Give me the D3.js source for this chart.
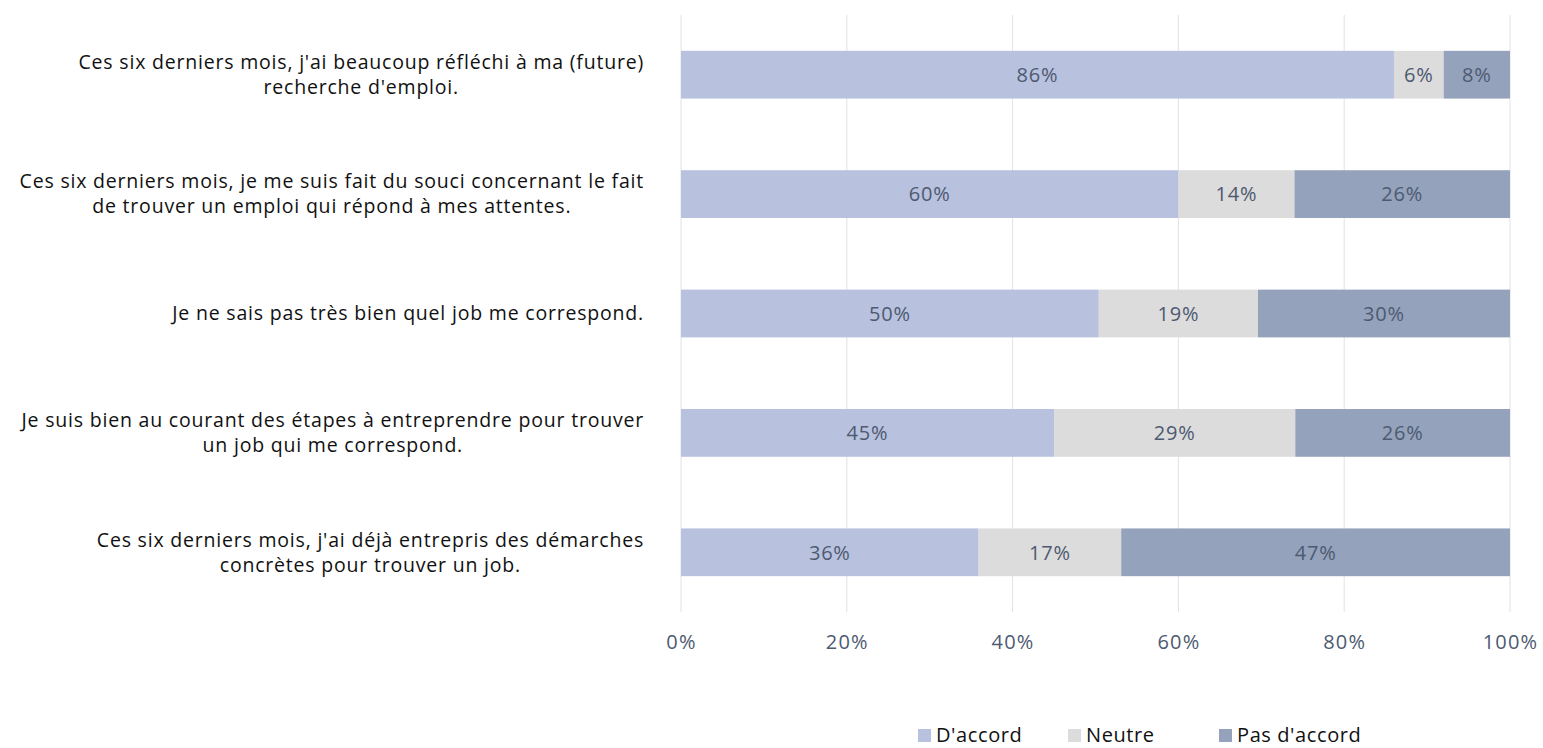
<!DOCTYPE html>
<html>
<head>
<meta charset="utf-8">
<script src="https://cdn.jsdelivr.net/npm/d3@7"></script>
<style>
  body { margin: 0; background: #fff; }
  svg { display: block; }
</style>
</head>
<body>
<svg id="chart" width="1543" height="748"></svg>
<script>
const svg = d3.select("#chart");
const fontFamily = "'Open Sans', Lato, sans-serif";

// données
const categories = [
  "Ces six derniers mois, j'ai beaucoup réfléchi à ma (future)\nrecherche d'emploi.",
  "Ces six derniers mois, je me suis fait du souci concernant le fait\nde trouver un emploi qui répond à mes attentes.",
  "Je ne sais pas très bien quel job me correspond.",
  "Je suis bien au courant des étapes à entreprendre pour trouver\nun job qui me correspond.",
  "Ces six derniers mois, j'ai déjà entrepris des démarches\nconcrètes pour trouver un job."
];
const seriesNames = ["D'accord", "Neutre", "Pas d'accord"];
const accord    = [86, 60, 50.4, 45, 35.9];
const neutre    = [6, 14, 19.2, 29.1, 17.2];
const pasAccord = [8, 26, 30.4, 25.9, 46.9];
const tickValues = [0, 20, 40, 60, 80, 100];
const colors = ["#b8c1de", "#dcdcdc", "#94a2bc"];

const margin = {top: 15, right: 33, bottom: 136, left: 681};
const width = 1543;
const height = 748;

const rows = categories.map((c, i) => ({
  cat: c, "D'accord": accord[i], "Neutre": neutre[i], "Pas d'accord": pasAccord[i]
}));

const x = d3.scaleLinear()
  .domain([0, 100])
  .range([margin.left, width - margin.right]);

const y = d3.scaleBand()
  .domain(categories)
  .range([margin.top, height - margin.bottom])
  .paddingInner(0.6)
  .paddingOuter(0.3);

// grille
svg.append("g")
  .selectAll("line")
  .data(tickValues)
  .join("line")
    .attr("x1", d => x(d)).attr("x2", d => x(d))
    .attr("y1", margin.top).attr("y2", height - margin.bottom)
    .attr("stroke", "#e2e2e6")
    .attr("stroke-width", 1);

// barres empilées
const stacked = d3.stack().keys(seriesNames)(rows);

const layers = svg.append("g")
  .selectAll("g")
  .data(stacked)
  .join("g")
    .attr("fill", (d, i) => colors[i]);

layers.selectAll("rect")
  .data(d => d)
  .join("rect")
    .attr("x", d => x(d[0]))
    .attr("y", d => y(d.data.cat))
    .attr("width", d => x(d[1]) - x(d[0]))
    .attr("height", y.bandwidth());

layers.selectAll("text")
  .data(d => d)
  .join("text")
    .attr("x", d => (x(d[0]) + x(d[1])) / 2)
    .attr("y", d => y(d.data.cat) + y.bandwidth() / 2)
    .attr("dy", "0.36em")
    .attr("text-anchor", "middle")
    .attr("font-family", fontFamily)
    .attr("font-size", 20)
    .attr("letter-spacing", 0.8)
    .attr("fill", "#4d5a70")
    .text(d => Math.round(d[1] - d[0]) + "%");

// axe x
const xAxis = svg.append("g")
  .attr("transform", `translate(0,${height - margin.bottom})`)
  .call(d3.axisBottom(x).tickValues(tickValues).tickFormat(d => d + "%").tickSize(0).tickPadding(23))
  .call(g => g.select(".domain").remove());
xAxis.selectAll("text")
  .attr("font-family", fontFamily)
  .attr("font-size", 20)
  .attr("letter-spacing", 1.2)
  .attr("fill", "#4d5a70");

// libellés des catégories
const labelRight = 644;
const labels = svg.append("g")
  .attr("font-family", fontFamily)
  .attr("font-size", 19.5)
  .attr("letter-spacing", 0.8)
  .attr("fill", "#111");

categories.forEach(c => {
  const lines = c.split("\n");
  const cy = y(c) + y.bandwidth() / 2;
  const lh = 25;
  const t = labels.append("text").attr("text-anchor", "middle");
  const spans = lines.map((l, i) => t.append("tspan")
    .attr("y", cy + (i - (lines.length - 1) / 2) * lh)
    .attr("dy", "0.35em")
    .text(l));
  const widths = spans.map(s => s.node().getComputedTextLength());
  const w = d3.max(widths);
  spans.forEach(s => s.attr("x", labelRight - w / 2));
});

// légende
const legend = svg.append("g")
  .attr("transform", `translate(918,${height - 6})`)
  .attr("font-family", fontFamily)
  .attr("font-size", 20)
  .attr("letter-spacing", 0.6);

const legendStep = [0, 150, 301];
seriesNames.forEach((name, i) => {
  const g = legend.append("g").attr("transform", `translate(${legendStep[i]},0)`);
  g.append("rect")
    .attr("x", 0).attr("y", -13)
    .attr("width", 13).attr("height", 13)
    .attr("fill", colors[i]);
  g.append("text")
    .attr("x", 18).attr("y", 0)
    .attr("fill", "#111")
    .text(name);
});
</script>
</body>
</html>
